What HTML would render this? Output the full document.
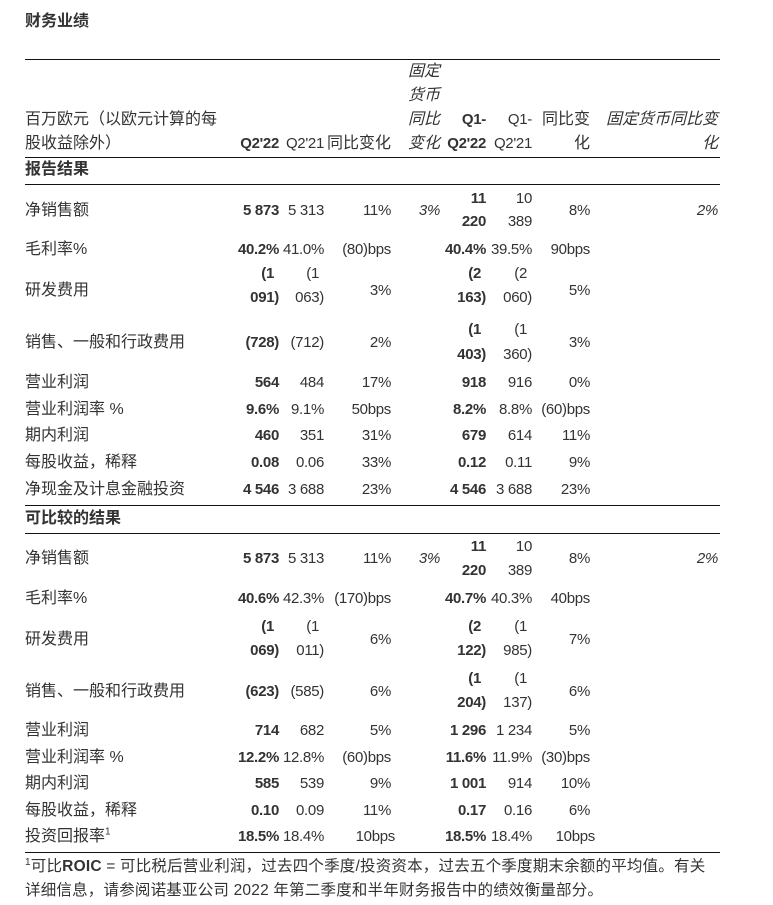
<!DOCTYPE html><html><head><meta charset="utf-8"><style>
body{margin:0;width:773px;height:905px;background:#fff;position:relative;font-family:"Liberation Sans","Noto Sans CJK SC",sans-serif;font-size:16px;color:#333;overflow:hidden}
div{position:absolute;line-height:20px;white-space:nowrap}
.r{text-align:right}
.b{font-weight:bold}
.i{font-style:italic}
.n{letter-spacing:-0.3px;font-size:15px}
.hl{left:25px;width:695px;height:0;border-top:1.5px solid #111}
.l{left:25px}
</style></head><body>
<div class="b" style="left:25px;top:12px;font-size:16px">财务业绩</div>
<div class="hl" style="top:59px"></div>
<div class="i" style="left:408px;top:62px">固定</div>
<div class="i" style="left:408px;top:86px">货币</div>
<div class="i" style="left:408px;top:110px">同比</div>
<div class="i" style="left:408px;top:134px">变化</div>
<div class="l" style="top:110px">百万欧元（以欧元计算的每</div>
<div class="l" style="top:134px">股收益除外）</div>
<div class="b n r" style="top:134px;right:494px">Q2'22</div>
<div class="n r" style="top:134px;right:449px">Q2'21</div>
<div class="r" style="top:134px;right:382px">同比变化</div>
<div class="b n r" style="top:110px;right:287px">Q1-</div>
<div class="b n r" style="top:134px;right:287px">Q2'22</div>
<div class="n r" style="top:110px;right:241px">Q1-</div>
<div class="n r" style="top:134px;right:241px">Q2'21</div>
<div class="r" style="top:110px;right:183px">同比变</div>
<div class="r" style="top:134px;right:183px">化</div>
<div class="i r" style="top:110px;right:55px">固定货币同比变</div>
<div class="i r" style="top:134px;right:55px">化</div>
<div class="hl" style="top:157px"></div>
<div class="b l" style="top:160px">报告结果</div>
<div class="hl" style="top:184px"></div>

<div class="l" style="top:201px">净销售额</div>
<div class="b n r" style="top:201px;right:494px">5 873</div><div class="n r" style="top:201px;right:449px">5 313</div><div class="n r" style="top:201px;right:382px">11%</div><div class="i n r" style="top:201px;right:333px">3%</div>
<div class="b n r" style="top:189px;right:287px">11</div><div class="b n r" style="top:212px;right:287px">220</div>
<div class="n r" style="top:189px;right:241px">10</div><div class="n r" style="top:212px;right:241px">389</div>
<div class="n r" style="top:201px;right:183px">8%</div><div class="i n r" style="top:201px;right:55px">2%</div>

<div class="l" style="top:240px">毛利率%</div>
<div class="b n r" style="top:240px;right:494px">40.2%</div><div class="n r" style="top:240px;right:449px">41.0%</div><div class="n r" style="top:240px;right:382px">(80)bps</div>
<div class="b n r" style="top:240px;right:287px">40.4%</div><div class="n r" style="top:240px;right:241px">39.5%</div><div class="n r" style="top:240px;right:183px">90bps</div>

<div class="l" style="top:281px">研发费用</div>
<div class="b n r" style="top:264px;right:499px">(1</div><div class="b n r" style="top:288px;right:494px">091)</div>
<div class="n r" style="top:264px;right:454px">(1</div><div class="n r" style="top:288px;right:449px">063)</div>
<div class="n r" style="top:281px;right:382px">3%</div>
<div class="b n r" style="top:264px;right:292px">(2</div><div class="b n r" style="top:288px;right:287px">163)</div>
<div class="n r" style="top:264px;right:246px">(2</div><div class="n r" style="top:288px;right:241px">060)</div>
<div class="n r" style="top:281px;right:183px">5%</div>

<div class="l" style="top:333px">销售、一般和行政费用</div>
<div class="b n r" style="top:333px;right:494px">(728)</div><div class="n r" style="top:333px;right:449px">(712)</div><div class="n r" style="top:333px;right:382px">2%</div>
<div class="b n r" style="top:320px;right:292px">(1</div><div class="b n r" style="top:345px;right:287px">403)</div>
<div class="n r" style="top:320px;right:246px">(1</div><div class="n r" style="top:345px;right:241px">360)</div>
<div class="n r" style="top:333px;right:183px">3%</div>

<div class="l" style="top:373px">营业利润</div>
<div class="b n r" style="top:373px;right:494px">564</div><div class="n r" style="top:373px;right:449px">484</div><div class="n r" style="top:373px;right:382px">17%</div>
<div class="b n r" style="top:373px;right:287px">918</div><div class="n r" style="top:373px;right:241px">916</div><div class="n r" style="top:373px;right:183px">0%</div>

<div class="l" style="top:400px">营业利润率 %</div>
<div class="b n r" style="top:400px;right:494px">9.6%</div><div class="n r" style="top:400px;right:449px">9.1%</div><div class="n r" style="top:400px;right:382px">50bps</div>
<div class="b n r" style="top:400px;right:287px">8.2%</div><div class="n r" style="top:400px;right:241px">8.8%</div><div class="n r" style="top:400px;right:183px">(60)bps</div>

<div class="l" style="top:426px">期内利润</div>
<div class="b n r" style="top:426px;right:494px">460</div><div class="n r" style="top:426px;right:449px">351</div><div class="n r" style="top:426px;right:382px">31%</div>
<div class="b n r" style="top:426px;right:287px">679</div><div class="n r" style="top:426px;right:241px">614</div><div class="n r" style="top:426px;right:183px">11%</div>

<div class="l" style="top:453px">每股收益，稀释</div>
<div class="b n r" style="top:453px;right:494px">0.08</div><div class="n r" style="top:453px;right:449px">0.06</div><div class="n r" style="top:453px;right:382px">33%</div>
<div class="b n r" style="top:453px;right:287px">0.12</div><div class="n r" style="top:453px;right:241px">0.11</div><div class="n r" style="top:453px;right:183px">9%</div>

<div class="l" style="top:480px">净现金及计息金融投资</div>
<div class="b n r" style="top:480px;right:494px">4 546</div><div class="n r" style="top:480px;right:449px">3 688</div><div class="n r" style="top:480px;right:382px">23%</div>
<div class="b n r" style="top:480px;right:287px">4 546</div><div class="n r" style="top:480px;right:241px">3 688</div><div class="n r" style="top:480px;right:183px">23%</div>

<div class="hl" style="top:505px"></div>
<div class="b l" style="top:509px">可比较的结果</div>
<div class="hl" style="top:533px"></div>

<div class="l" style="top:549px">净销售额</div>
<div class="b n r" style="top:549px;right:494px">5 873</div><div class="n r" style="top:549px;right:449px">5 313</div><div class="n r" style="top:549px;right:382px">11%</div><div class="i n r" style="top:549px;right:333px">3%</div>
<div class="b n r" style="top:537px;right:287px">11</div><div class="b n r" style="top:561px;right:287px">220</div>
<div class="n r" style="top:537px;right:241px">10</div><div class="n r" style="top:561px;right:241px">389</div>
<div class="n r" style="top:549px;right:183px">8%</div><div class="i n r" style="top:549px;right:55px">2%</div>

<div class="l" style="top:589px">毛利率%</div>
<div class="b n r" style="top:589px;right:494px">40.6%</div><div class="n r" style="top:589px;right:449px">42.3%</div><div class="n r" style="top:589px;right:382px">(170)bps</div>
<div class="b n r" style="top:589px;right:287px">40.7%</div><div class="n r" style="top:589px;right:241px">40.3%</div><div class="n r" style="top:589px;right:183px">40bps</div>

<div class="l" style="top:630px">研发费用</div>
<div class="b n r" style="top:617px;right:499px">(1</div><div class="b n r" style="top:641px;right:494px">069)</div>
<div class="n r" style="top:617px;right:454px">(1</div><div class="n r" style="top:641px;right:449px">011)</div>
<div class="n r" style="top:630px;right:382px">6%</div>
<div class="b n r" style="top:617px;right:292px">(2</div><div class="b n r" style="top:641px;right:287px">122)</div>
<div class="n r" style="top:617px;right:246px">(1</div><div class="n r" style="top:641px;right:241px">985)</div>
<div class="n r" style="top:630px;right:183px">7%</div>

<div class="l" style="top:682px">销售、一般和行政费用</div>
<div class="b n r" style="top:682px;right:494px">(623)</div><div class="n r" style="top:682px;right:449px">(585)</div><div class="n r" style="top:682px;right:382px">6%</div>
<div class="b n r" style="top:669px;right:292px">(1</div><div class="b n r" style="top:693px;right:287px">204)</div>
<div class="n r" style="top:669px;right:246px">(1</div><div class="n r" style="top:693px;right:241px">137)</div>
<div class="n r" style="top:682px;right:183px">6%</div>

<div class="l" style="top:721px">营业利润</div>
<div class="b n r" style="top:721px;right:494px">714</div><div class="n r" style="top:721px;right:449px">682</div><div class="n r" style="top:721px;right:382px">5%</div>
<div class="b n r" style="top:721px;right:287px">1 296</div><div class="n r" style="top:721px;right:241px">1 234</div><div class="n r" style="top:721px;right:183px">5%</div>

<div class="l" style="top:748px">营业利润率 %</div>
<div class="b n r" style="top:748px;right:494px">12.2%</div><div class="n r" style="top:748px;right:449px">12.8%</div><div class="n r" style="top:748px;right:382px">(60)bps</div>
<div class="b n r" style="top:748px;right:287px">11.6%</div><div class="n r" style="top:748px;right:241px">11.9%</div><div class="n r" style="top:748px;right:183px">(30)bps</div>

<div class="l" style="top:774px">期内利润</div>
<div class="b n r" style="top:774px;right:494px">585</div><div class="n r" style="top:774px;right:449px">539</div><div class="n r" style="top:774px;right:382px">9%</div>
<div class="b n r" style="top:774px;right:287px">1 001</div><div class="n r" style="top:774px;right:241px">914</div><div class="n r" style="top:774px;right:183px">10%</div>

<div class="l" style="top:801px">每股收益，稀释</div>
<div class="b n r" style="top:801px;right:494px">0.10</div><div class="n r" style="top:801px;right:449px">0.09</div><div class="n r" style="top:801px;right:382px">11%</div>
<div class="b n r" style="top:801px;right:287px">0.17</div><div class="n r" style="top:801px;right:241px">0.16</div><div class="n r" style="top:801px;right:183px">6%</div>

<div class="l" style="top:827px">投资回报率<sup style="font-size:10px;line-height:0">1</sup></div>
<div class="b n r" style="top:827px;right:494px">18.5%</div><div class="n r" style="top:827px;right:449px">18.4%</div><div class="n r" style="top:827px;right:378px">10bps</div>
<div class="b n r" style="top:827px;right:287px">18.5%</div><div class="n r" style="top:827px;right:241px">18.4%</div><div class="n r" style="top:827px;right:178px">10bps</div>

<div class="hl" style="top:852px"></div>
<div class="l" style="top:857px;font-size:15.5px;letter-spacing:0.2px"><sup style="font-size:10px;line-height:0">1</sup>可比<b>ROIC</b> = 可比税后营业利润，过去四个季度/投资资本，过去五个季度期末余额的平均值。有关</div>
<div class="l" style="top:881px;font-size:15.5px;letter-spacing:0.2px">详细信息，请参阅诺基亚公司 2022 年第二季度和半年财务报告中的绩效衡量部分。</div>
</body></html>
